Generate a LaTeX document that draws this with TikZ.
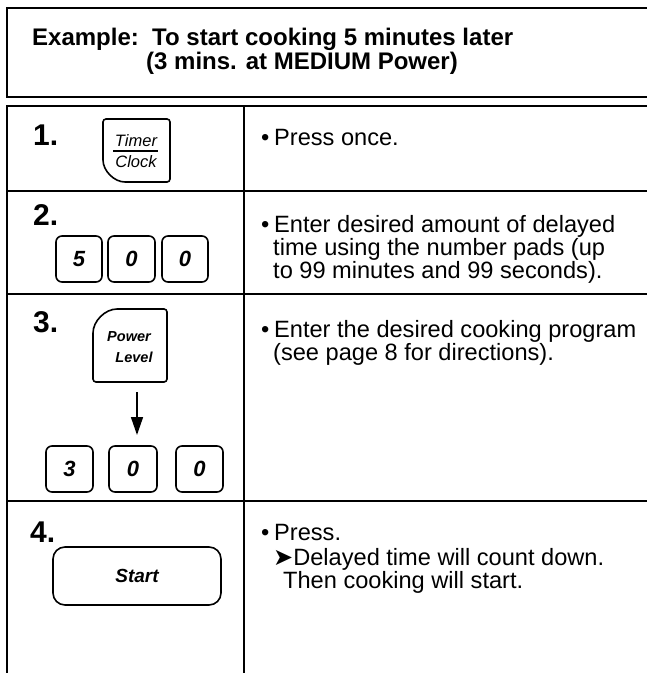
\documentclass[tikz,border=0pt]{standalone}
\usepackage{fontspec}
\setmainfont{Liberation Sans}
\newfontfamily\dejavu{DejaVu Sans}
\usetikzlibrary{arrows.meta}
\begin{document}
\begin{tikzpicture}[x=1pt,y=-1pt,
  rule/.style={line width=1.7},
  txt/.style={anchor=base west, inner sep=0, font=\fontsize{23.6}{28}\selectfont},
  hdr/.style={anchor=base west, inner sep=0, font=\bfseries\fontsize{24}{28}\selectfont},
  num/.style={anchor=base west, inner sep=0, font=\bfseries\fontsize{30}{30}\selectfont},
  padkey/.style={draw, line width=1.6, rounded corners=6, minimum width=46, minimum height=46, inner sep=0, font=\bfseries\itshape\fontsize{22}{22}\selectfont},
  keyline/.style={line width=1.6},
  keytxt/.style={inner sep=0, font=\itshape\fontsize{16.5}{16.5}\selectfont},
  keybold/.style={inner sep=0, font=\bfseries\itshape\fontsize{14.5}{14.5}\selectfont},
  downarrow/.style={line width=1.6, -{Triangle[length=18pt,width=12pt]}}
]
\useasboundingbox (0,0) rectangle (647,673);
% header box
\draw[rule] (647,8) -- (7,8) -- (7,97) -- (647,97);
\node[hdr] (h1) at (32,45) {Example:\ \ To start cooking 5 minutes later};
\node[hdr] (h2) at (146,69) {(3 mins. at MEDIUM Power)};
% table
\draw[rule] (647,106) -- (7,106) -- (7,673);
\draw[rule] (244,106) -- (244,673);
\draw[rule] (7,191) -- (647,191);
\draw[rule] (7,294) -- (647,294);
\draw[rule] (7,501) -- (647,501);
% step numbers
\node[num] (n1) at (33,145) {1.};
\node[num] (n2) at (33,225) {2.};
\node[num] (n3) at (33,332) {3.};
\node[num] (n4) at (30,542) {4.};
% Timer/Clock key
\draw[keyline, rounded corners=3] (103,119) -- (103,157) .. controls (103,170.8) and (114.2,182) .. (128,182) -- (170,182) -- (170,119) -- cycle;
\node[keytxt] (timer) at (136,141) {Timer};
\node[keytxt] (clock) at (136,162) {Clock};
\draw[line width=1.3] (113,151) -- (158,151);
% 5 0 0
\node[padkey] (k5) at (79,259) {5};
\node[padkey, minimum width=47] (k0a) at (131.5,259) {0};
\node[padkey] (k0b) at (185,259) {0};
% Power Level key
\draw[keyline, rounded corners=3] (93,382) -- (93,336) .. controls (93,321.1) and (105.1,309) .. (120,309) -- (167,309) -- (167,382) -- cycle;
\node[keybold] (power) at (129,337) {Power};
\node[keybold] (level) at (134,357) {Level};
\coordinate (astart) at (137,392);
\coordinate (aend) at (137,435);
\draw[downarrow] (astart) -- (aend);
% 3 0 0
\node[padkey, minimum width=47] (k3) at (69.5,469) {3};
\node[padkey, minimum width=48] (k0c) at (133,469) {0};
\node[padkey, minimum width=47] (k0d) at (199.5,469) {0};
% Start key
\node[padkey, minimum width=168, minimum height=58, rounded corners=12, font=\bfseries\itshape\fontsize{19}{19}\selectfont] (start) at (137,576) {Start};
% right column texts
\node[txt] (b1) at (261,145) {•};
\node[txt] (t1) at (274,145) {Press once.};
\node[txt] (b2) at (261,232) {•};
\node[txt] (t2a) at (274,232) {Enter desired amount of delayed};
\node[txt] (t2b) at (273,255) {time using the number pads (up};
\node[txt] (t2c) at (273,278) {to 99 minutes and 99 seconds).};
\node[txt] (b3) at (261,337) {•};
\node[txt] (t3a) at (274,337) {Enter the desired cooking program};
\node[txt] (t3b) at (273,360) {(see page 8 for directions).};
\node[txt] (b4) at (261,540) {•};
\node[txt] (t4a) at (274,540) {Press.};
\node[txt] (t4b) at (273,565) {{\dejavu\fontsize{24}{24}\selectfont ➤}Delayed time will count down.};
\node[txt] (t4c) at (283,588) {Then cooking will start.};
\end{tikzpicture}
\end{document}
